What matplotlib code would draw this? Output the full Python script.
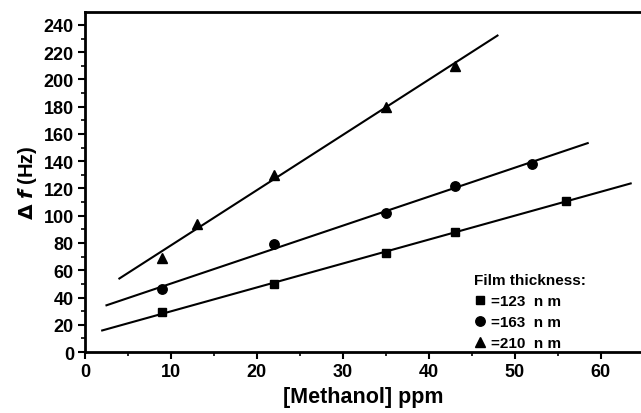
import numpy as np
import matplotlib.pyplot as plt
from matplotlib.ticker import MultipleLocator

plt.rcParams['font.family'] = ['Liberation Sans', 'DejaVu Sans']
plt.rcParams['font.weight'] = 'bold'

# data
x_sq = [9, 22, 35, 43, 56]
y_sq = [29, 50, 73, 88, 111]
x_ci = [9, 22, 35, 43, 52]
y_ci = [46, 79, 102, 122, 138]
x_tr = [9, 13, 22, 35, 43]
y_tr = [69, 94, 130, 180, 210]
labels = ['=123  n m', '=163  n m', '=210  n m']

# extent of the fitted lines
fit_sq = [2, 63.5]
fit_ci = [2.5, 58.5]
fit_tr = [4, 48]

fig = plt.figure(figsize=(6.41, 4.14), dpi=100)
ax = fig.add_axes([0.1326, 0.1473, 0.8674, 0.8213])

for xs, ys, rng, m, lab, ms in [(x_sq, y_sq, fit_sq, 's', labels[0], 5.8),
                                (x_ci, y_ci, fit_ci, 'o', labels[1], 6.8),
                                (x_tr, y_tr, fit_tr, '^', labels[2], 7.2)]:
    p = np.polyfit(xs, ys, 1)
    xx = np.array(rng)
    ax.plot(xx, np.polyval(p, xx), color='black', lw=1.5)
    ax.plot(xs, ys, ls='none', marker=m, color='black', ms=ms, label=lab)

ax.set_xlim(0, 64.7)
ax.set_ylim(0, 249.5)
ax.xaxis.set_major_locator(MultipleLocator(10))
ax.xaxis.set_minor_locator(MultipleLocator(5))
ax.yaxis.set_major_locator(MultipleLocator(20))
ax.yaxis.set_minor_locator(MultipleLocator(10))
ax.tick_params(which='major', length=5, width=1.5, labelsize=13, pad=3)
ax.tick_params(which='minor', length=3, width=1.2)
for s in ['left', 'bottom', 'top']:
    ax.spines[s].set_linewidth(2)
ax.spines['right'].set_visible(False)

ax.set_xlabel('[Methanol] ppm', fontsize=15.5, fontweight='bold', labelpad=4)
ax.set_ylabel(r'$\Delta$ $\mathbf{\mathit{f}}$ (Hz)', fontsize=14.5, fontweight='bold', labelpad=3)

leg = ax.legend(title='Film thickness:', loc='lower left', bbox_to_anchor=(0.688, -0.012),
                frameon=False, fontsize=11, title_fontsize=11, handlelength=0.8,
                handletextpad=0.35, labelspacing=0.45, borderaxespad=0.0)
leg.get_title().set_fontweight('bold')
leg._legend_box.align = 'left'
leg._legend_box.sep = 5

fig.savefig('out.png', dpi=100)
